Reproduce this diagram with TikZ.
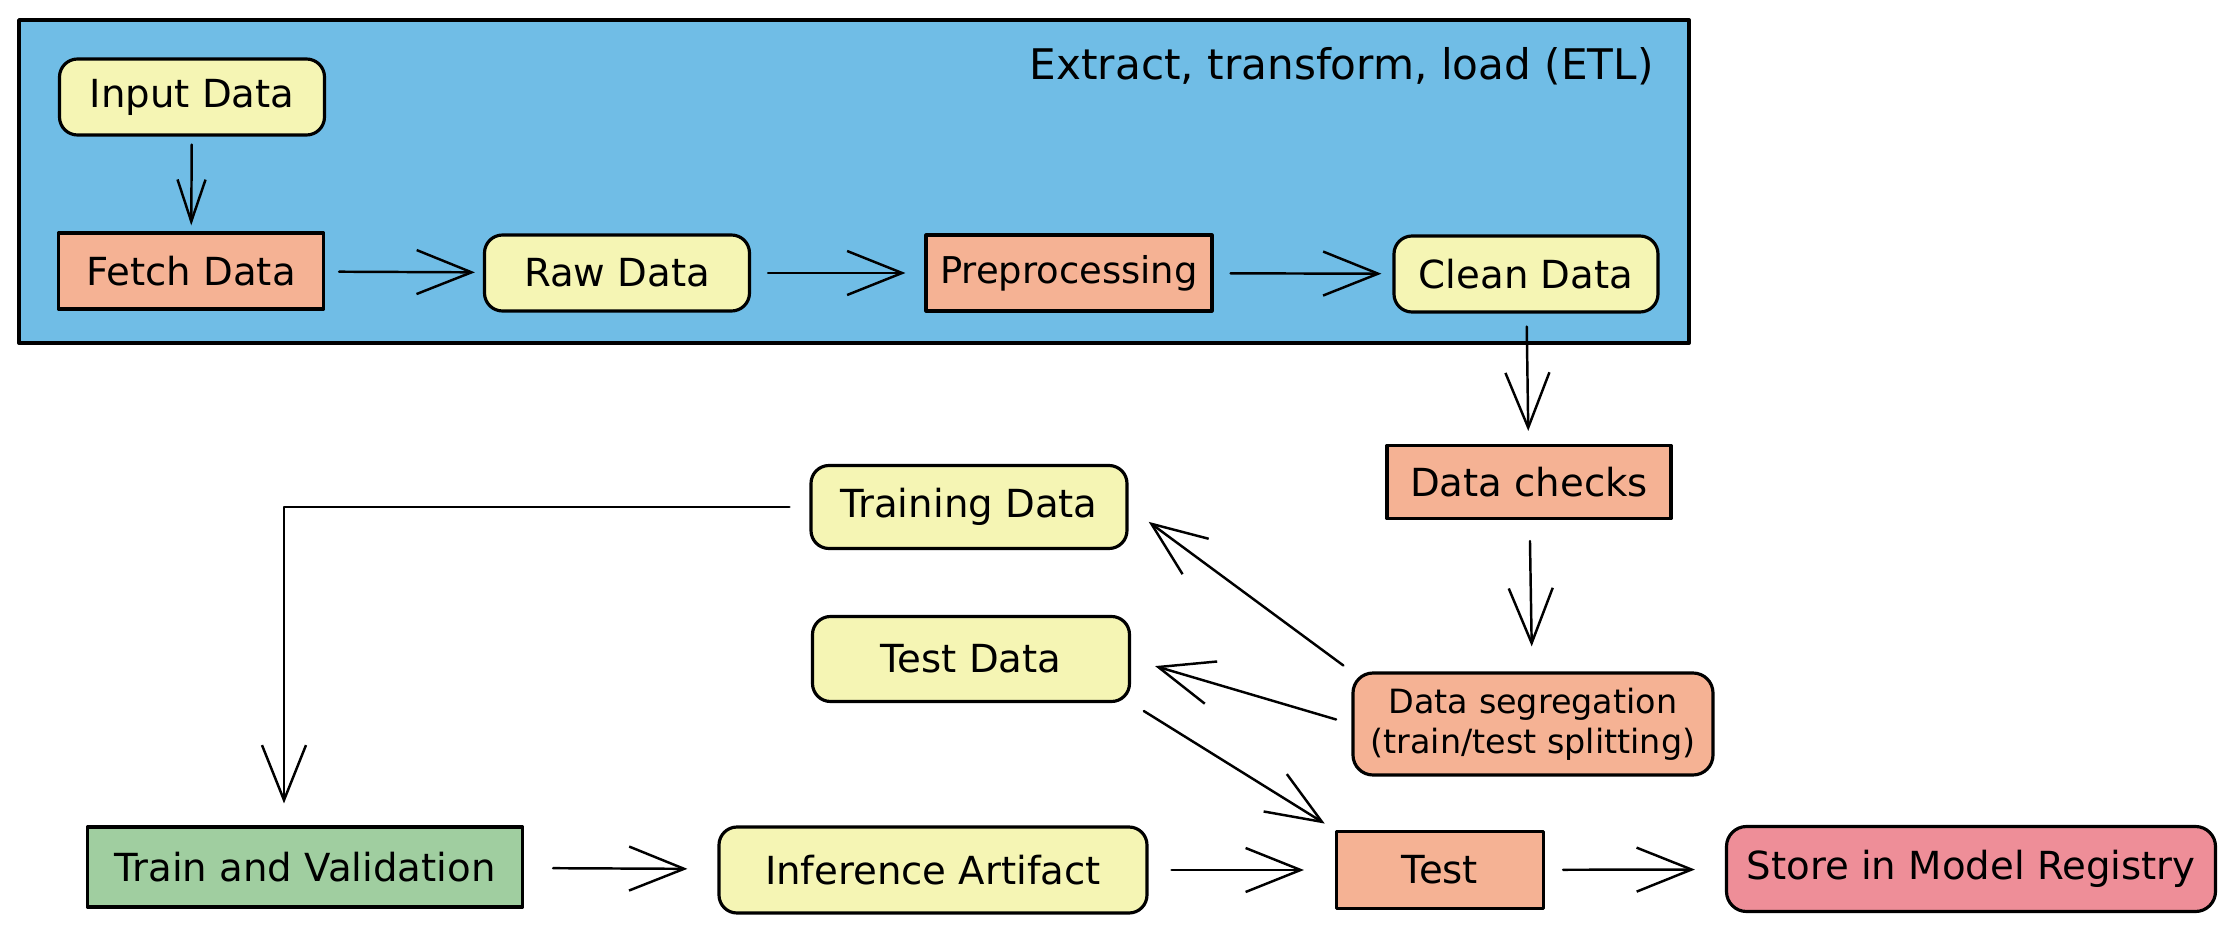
\documentclass[tikz,border=0pt]{standalone}
\usepackage{fontspec}
\setmainfont{DejaVu Sans}
\usepackage{xcolor}
\usetikzlibrary{arrows.meta}

\definecolor{etlblue}{HTML}{70BDE6}
\definecolor{datayellow}{HTML}{F5F5B4}
\definecolor{tasksalmon}{HTML}{F5B294}
\definecolor{traingreen}{HTML}{A0CEA0}
\definecolor{storepink}{HTML}{EE8E98}

\begin{document}
\begin{tikzpicture}[>={Straight Barb[length=5.5mm,width=4.4mm]}, line cap=round, line join=round,
    box/.style={draw, line width=0.9pt, inner sep=0pt, minimum height=0.76cm,
        font=\fontsize{11}{13}\selectfont},
    data/.style={box, fill=datayellow, rounded corners=0.18cm},
    task/.style={box, fill=tasksalmon},
    flow/.style={->, line width=0.7pt, shorten <=0.2cm, shorten >=0.25cm}]

\useasboundingbox (0,0) rectangle (22.36,9.31);

% ETL block
\draw[fill=etlblue, line width=1.1pt] (0.19,5.88) rectangle (16.89,9.11);
\node[anchor=east, font=\fontsize{12}{14}\selectfont] (etl) at (16.66,8.65) {Extract, transform, load (ETL)};

\node[data, minimum width=2.65cm] (input) at (1.92,8.34) {Input Data};
\node[task, minimum width=2.65cm] (fetch) at (1.91,6.60) {Fetch Data};
\node[data, minimum width=2.65cm] (raw) at (6.17,6.58) {Raw Data};
\node[task, minimum width=2.86cm, font=\fontsize{10.5}{13}\selectfont] (prep) at (10.69,6.58) {Preprocessing};
\node[data, minimum width=2.64cm] (clean) at (15.26,6.57) {Clean Data};

% Checks and split
\node[task, minimum width=2.84cm, minimum height=0.73cm] (checks) at (15.29,4.49) {Data checks};
\node[task, rounded corners=0.2cm, minimum width=3.60cm, minimum height=1.02cm, align=center,
    font=\fontsize{9.5}{11.4}\selectfont] (seg) at (15.33,2.07) {Data segregation\\(train/test splitting)};
\node[data, minimum width=3.16cm, minimum height=0.83cm] (training) at (9.69,4.24) {Training Data};
\node[data, minimum width=3.17cm, minimum height=0.85cm] (testdata) at (9.71,2.72) {Test Data};

% Bottom row
\node[box, fill=traingreen, minimum width=4.35cm, minimum height=0.80cm] (trainval) at (3.05,0.64) {Train and Validation};
\node[data, minimum width=4.28cm, minimum height=0.86cm] (infer) at (9.33,0.61) {Inference Artifact};
\node[task, minimum width=2.07cm, minimum height=0.77cm] (test) at (14.40,0.61) {Test};
\node[box, fill=storepink, rounded corners=0.2cm, minimum width=4.89cm, minimum height=0.85cm] (store) at (19.71,0.62) {Store in Model Registry};

% Frecce
\draw[flow, shorten <=0.08cm, shorten >=0.06cm, -{Straight Barb[length=4.2mm,width=2.8mm]}] (input) -- (fetch);
\draw[flow, shorten <=0.14cm, shorten >=0.08cm] (fetch) -- (raw);
\draw[flow, shorten <=0.17cm, shorten >=0.19cm] (raw) -- (prep);
\draw[flow, shorten <=0.17cm, shorten >=0.11cm] (prep) -- (clean);
\draw[flow, shorten <=0.13cm, shorten >=0.13cm] (clean) -- (checks);
\draw[flow, shorten <=0.21cm, shorten >=0.25cm] (checks) -- (seg);
\draw[flow, shorten <=0.1cm] (seg.north west) -- (training.east);
\draw[flow, shorten <=0.16cm] (seg.west) -- (testdata.east);
\draw[flow, shorten <=0.15cm, shorten >=0.12cm] (testdata.south east) -- (test.north west);
\draw[flow, shorten >=0.22cm] (training.west) -| ([xshift=-0.21cm]trainval.north);
\draw[flow, shorten <=0.29cm, shorten >=0.3cm] (trainval) -- (infer);
\draw[flow, shorten <=0.23cm, shorten >=0.31cm] (infer) -- (test);
\draw[flow, shorten <=0.18cm, shorten >=0.3cm] (test) -- (store);

\end{tikzpicture}
\end{document}
